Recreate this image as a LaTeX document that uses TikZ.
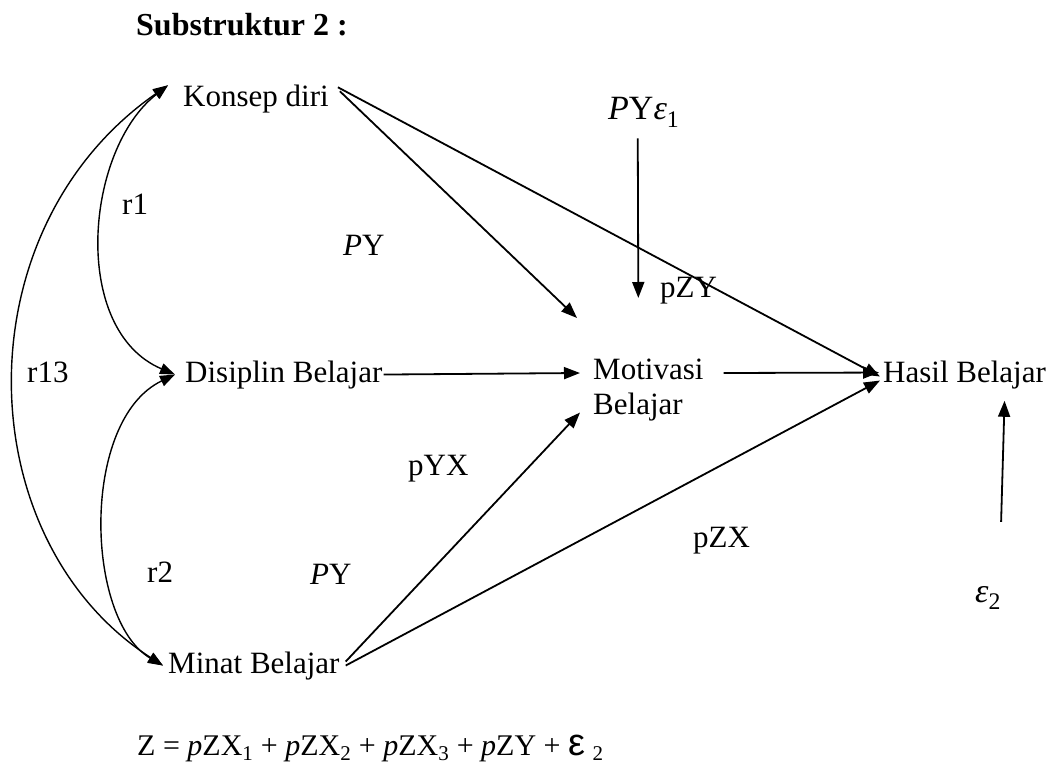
\documentclass[tikz,border=0pt]{standalone}
\usepackage{fontspec}
\setmainfont{Liberation Serif}
\newfontfamily\epsfont{Liberation Sans}
\usetikzlibrary{arrows.meta,positioning}

\begin{document}
\begin{tikzpicture}[x=1pt,y=-1pt,
	txt/.style={inner sep=0pt,anchor=base west,font=\fontsize{31}{35}\selectfont},
	arr/.style={line width=1.8pt,-{Triangle[length=16pt,width=12pt]}},
	cor/.style={line width=1.4pt,{Triangle[length=15pt,width=11pt]}-{Triangle[length=15pt,width=11pt]}}]
	\useasboundingbox (0,0) rectangle (1054,767);
	\node[txt,font=\bfseries\fontsize{32}{36}\selectfont] (judul) at (136,36) {Substruktur 2 :};
	\node[txt] (kon) at (183,107) {Konsep diri};
	\node[txt] (dis) at (185,382) {Disiplin Belajar};
	\node[txt] (min) at (168,673) {Minat Belajar};
	\node[txt,anchor=north west,align=left] (mot) at (593,359) {Motivasi\\Belajar};
	\node[txt] (has) at (883,382) {Hasil Belajar};
	\node[txt,font=\fontsize{34}{38}\selectfont] (e1) at (608,120) {\textit{P}Y\textit{ε}\textsubscript{1}};
	\node[txt,font=\fontsize{34}{38}\selectfont] (e2) at (975,602) {\textit{ε}\textsubscript{2}};
	\node[txt] (r1) at (122,215) {r1};
	\node[txt] (r13) at (27,382) {r13};
	\node[txt] (r2) at (147,582) {r2};
	\node[txt] (py1) at (343,255) {\textit{P}Y};
	\node[txt] (py2) at (310,584) {\textit{P}Y};
	\node[txt] (pzy) at (660,297) {pZY};
	\node[txt] (pyx) at (408,475) {pYX};
	\node[txt] (pzx) at (693,547) {pZX};
	\node[txt,font=\fontsize{30}{34}\selectfont] (eq) at (137,755) {Z = \textit{p}ZX\textsubscript{1} + \textit{p}ZX\textsubscript{2} + \textit{p}ZX\textsubscript{3} + \textit{p}ZY + {\epsfont\fontsize{38}{40}\selectfont ε} \textsubscript{2}};
	\draw[arr] ([shift={(11,6)}]kon.north east) -- ([shift={(-16,-41)}]mot.north west);
	\draw[arr] ([shift={(9,2)}]kon.north east) -- ([shift={(-3,2)}]has.west);
	\draw[arr] ([shift={(-6,11)}]e1.south) -- ([shift={(-10,-61)}]mot.north);
	\draw[arr] ([xshift=1pt]dis.east) -- ([shift={(-13,14)}]mot.north west);
	\draw[arr] ([shift={(20,14)}]mot.north east) -- ([shift={(-4,-2)}]has.west);
	\draw[arr] ([shift={(6,-4)}]min.east) -- ([shift={(-13,-9)}]mot.south west);
	\draw[arr] ([shift={(6,0)}]min.east) -- ([shift={(-3,6)}]has.west);
	\draw[arr] ([shift={(13,-64)}]e2.north) -- ([shift={(40,12)}]has.south);
	\draw[cor] ([xshift=-15pt]kon.north west) .. controls (-40,230) and (-32,540) .. ([xshift=-5pt]min.west);
	\draw[cor] ([xshift=-15pt]kon.north west) .. controls (85,150) and (70,330) .. ([xshift=-10pt]dis.west);
	\draw[cor] ([xshift=-10pt]dis.west) .. controls (80,420) and (85,620) .. ([xshift=-5pt]min.west);
\end{tikzpicture}
\end{document}
